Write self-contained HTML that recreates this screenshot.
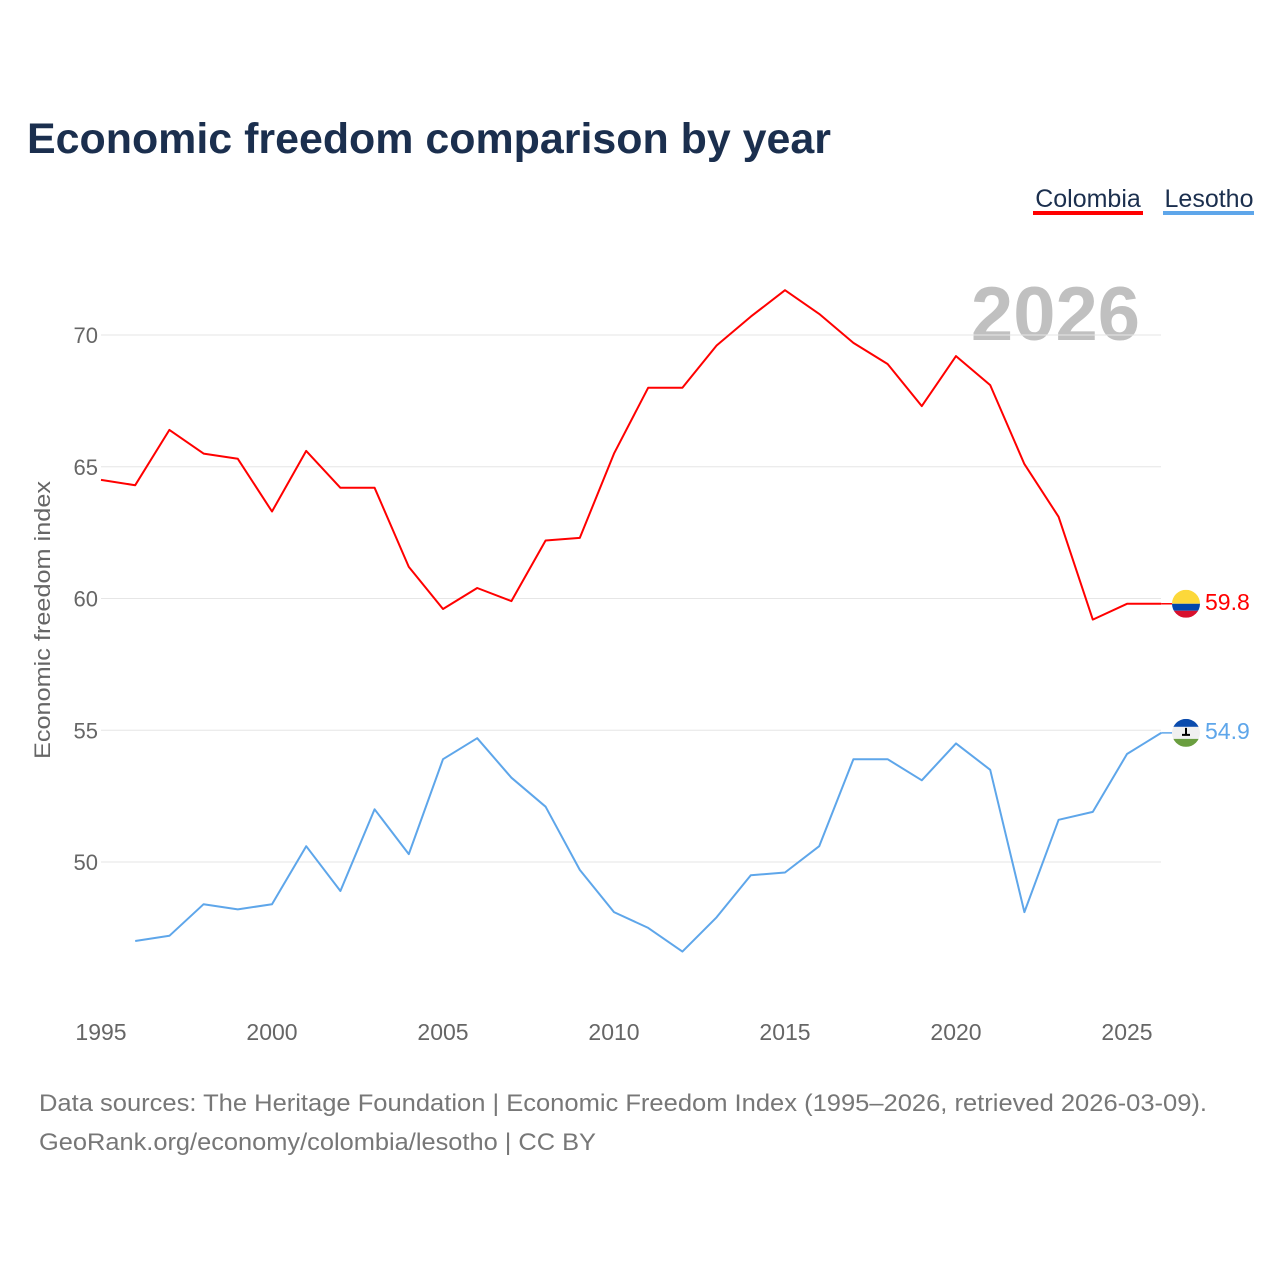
<!DOCTYPE html>
<html><head><meta charset="utf-8"><style>
body{margin:0;background:#fff;width:1280px;height:1280px;overflow:hidden;font-family:"Liberation Sans",sans-serif}
</style></head><body>
<svg id="chart" width="1280" height="1280" xmlns="http://www.w3.org/2000/svg">
<text x="27" y="153" font-size="43" font-weight="bold" fill="#1b2f4e" textLength="804" lengthAdjust="spacingAndGlyphs">Economic freedom comparison by year</text>
<g>
<text x="1088" y="207" font-size="25" fill="#1b2f4e" text-anchor="middle">Colombia</text>
<rect x="1033" y="211" width="110" height="4" fill="#ff0000"/>
<text x="1209" y="207" font-size="25" fill="#1b2f4e" text-anchor="middle">Lesotho</text>
<rect x="1163" y="211" width="91" height="4" fill="#5ea6ea"/>
</g>
<text x="1140" y="340" font-size="76" font-weight="bold" fill="#c0c0c0" text-anchor="end">2026</text>
<text transform="translate(50,620) rotate(-90)" font-size="22" fill="#666" text-anchor="middle" textLength="278" lengthAdjust="spacingAndGlyphs">Economic freedom index</text>
<g id="grid"></g><g id="xt"></g><g id="lines"></g>
<g font-size="24" fill="#777">
<text x="39" y="1111" textLength="1168" lengthAdjust="spacingAndGlyphs">Data sources: The Heritage Foundation | Economic Freedom Index (1995–2026, retrieved 2026-03-09).</text>
<text x="39" y="1150" textLength="557" lengthAdjust="spacingAndGlyphs">GeoRank.org/economy/colombia/lesotho | CC BY</text>
</g>
</svg>
<script>
const years=[1995,1996,1997,1998,1999,2000,2001,2002,2003,2004,2005,2006,2007,2008,2009,2010,2011,2012,2013,2014,2015,2016,2017,2018,2019,2020,2021,2022,2023,2024,2025,2026];
const colombia=[64.5,64.3,66.4,65.5,65.3,63.3,65.6,64.2,64.2,61.2,59.6,60.4,59.9,62.2,62.3,65.5,68.0,68.0,69.6,70.7,71.7,70.8,69.7,68.9,67.3,69.2,68.1,65.1,63.1,59.2,59.8,59.8];
const lesotho=[null,47.0,47.2,48.4,48.2,48.4,50.6,48.9,52.0,50.3,53.9,54.7,53.2,52.1,49.7,48.1,47.5,46.6,47.9,49.5,49.6,50.6,53.9,53.9,53.1,54.5,53.5,48.1,51.6,51.9,54.1,54.9];
const yTicks=[50,55,60,65,70];
const xTicks=[1995,2000,2005,2010,2015,2020,2025];
const NS='http://www.w3.org/2000/svg';
const X=y=>101+(y-1995)*34.2;
const Y=v=>862-(v-50)*26.35;
function mk(tag,attrs,parent,txt){const e=document.createElementNS(NS,tag);for(const k in attrs)e.setAttribute(k,attrs[k]);if(txt!=null)e.textContent=txt;parent.appendChild(e);return e;}
const grid=document.getElementById('grid'),xt=document.getElementById('xt'),lines=document.getElementById('lines');
yTicks.forEach(t=>{
 const l=mk('line',{x1:101,x2:1161,y1:Y(t),y2:Y(t),stroke:'#e6e6e6','stroke-width':1},grid);
 
 
 const tx=mk('text',{x:98,y:Y(t)+8,'font-size':22,fill:'#666','text-anchor':'end'},grid,t);
 
 
});
xTicks.forEach(t=>{
 const tx=mk('text',{x:X(t),y:1040,'font-size':23,fill:'#666','text-anchor':'middle'},xt,t);
 
 
});
function series(vals,color,name,flag){
 let d='';vals.forEach((v,i)=>{if(v==null)return;d+=(d?'L':'M')+X(years[i]).toFixed(1)+','+Y(v).toFixed(1);});
 const p=mk('path',{d:d,fill:'none',stroke:color,'stroke-width':2,'stroke-linejoin':'round'},lines);
 
 
 const lv=vals[vals.length-1],ly=Y(lv),lx=X(years[years.length-1]);
 mk('line',{x1:lx,x2:1172,y1:ly,y2:ly,stroke:color,'stroke-width':1.5},lines);
 const g=mk('g',{},lines);
 
 
 const cid='c'+name;
 const cp=mk('clipPath',{id:cid},g);mk('circle',{cx:1186,cy:ly,r:14},cp);
 const gg=mk('g',{'clip-path':'url(#'+cid+')'},g);
 let yy=ly-14;flag.forEach(([h,c])=>{mk('rect',{x:1172,y:yy,width:28,height:h,fill:c},gg);yy+=h;});
 if(name==='lesotho')mk('path',{d:`M1186,${ly-5}v6 M1182,${ly+2}h8`,stroke:'#000','stroke-width':2},gg);
 const t=mk('text',{x:1205,y:ly+6,'font-size':23,fill:color},lines,lv.toFixed(1));
 
 
}
series(colombia,'#ff0000','colombia',[[14,'#fcd83a'],[7,'#0046ad'],[7,'#d8102d']]);
series(lesotho,'#5ea6ea','lesotho',[[8,'#0a4bad'],[12,'#f0f0f0'],[8,'#6a9e3f']]);
</script>
</body></html>
